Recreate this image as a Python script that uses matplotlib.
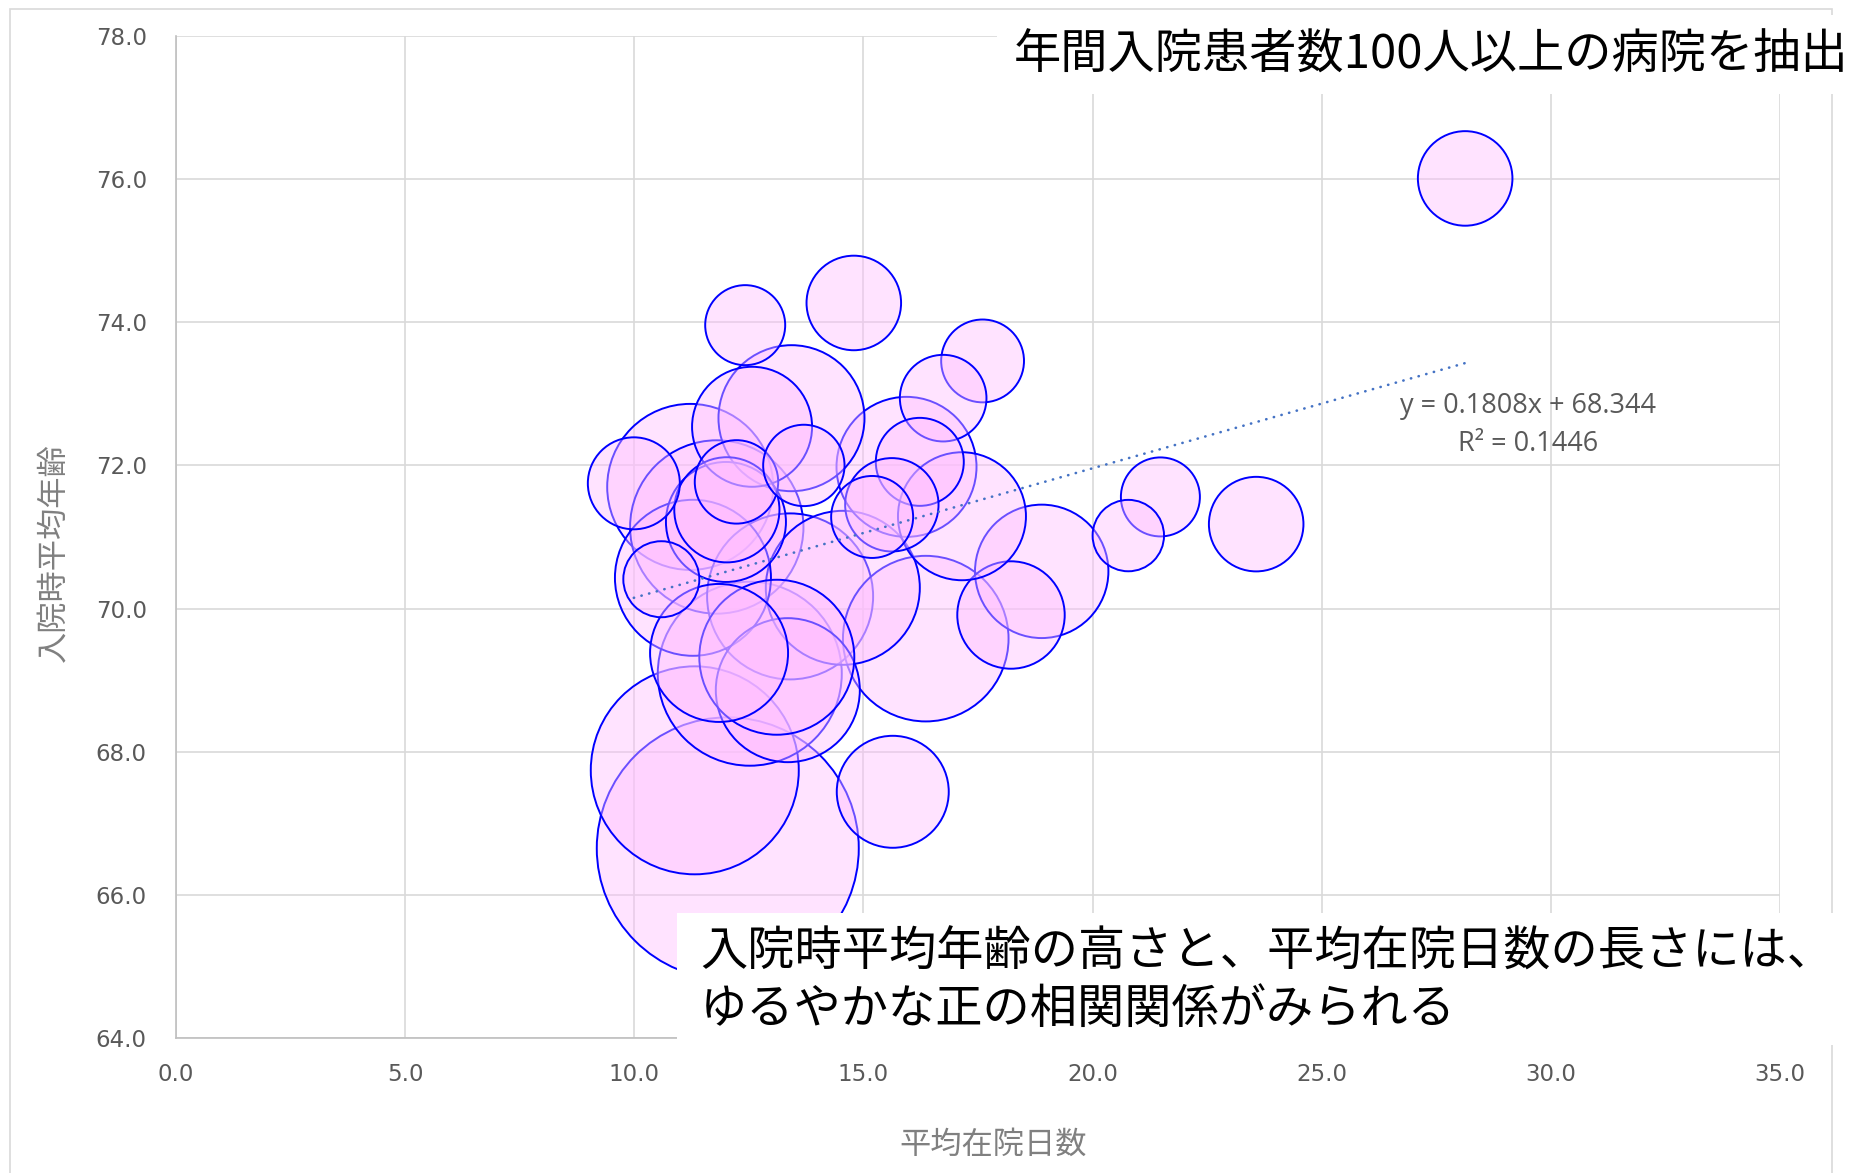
import numpy as np
import matplotlib.pyplot as plt
from matplotlib.patches import Rectangle

plt.rcParams['font.family'] = ['Noto Sans CJK JP', 'DejaVu Sans']

# Data, listed in drawing order
avg_days = [12.04, 11.32, 12.52, 11.22, 11.80, 13.40, 16.36, 14.55, 11.28, 15.94,
            13.43, 13.35, 13.11, 11.85, 18.89, 18.22, 17.15, 12.00, 12.57, 12.02,
            15.64, 23.57, 14.79, 28.13, 12.42, 17.60, 16.74, 16.23, 15.62, 15.19,
            9.99, 12.23, 13.70, 10.59, 21.48, 20.78]
avg_age = [66.65, 67.74, 69.09, 71.70, 71.14, 70.17, 69.58, 70.29, 70.43, 71.98,
           72.66, 68.86, 69.32, 69.38, 70.52, 69.91, 71.29, 71.21, 72.54, 71.38,
           67.44, 71.18, 74.27, 76.01, 73.96, 73.46, 72.94, 72.05, 71.45, 71.28,
           71.75, 71.77, 72.00, 70.41, 71.56, 71.02]
patients = [3432, 2163, 1693, 1378, 1503, 1378, 1371, 1186, 1217, 980,
            1066, 1037, 1201, 952, 890, 577, 819, 720, 720, 553,
            627, 447, 447, 447, 320, 343, 375, 387, 436, 336,
            423, 348, 331, 289, 312, 255]

x_ticks = [0, 5, 10, 15, 20, 25, 30, 35]
y_ticks = [64, 66, 68, 70, 72, 74, 76, 78]

# trendline shown on the chart
SLOPE = 0.1808
INTERCEPT = 68.344
R2 = 0.1446

W, H = 1854, 1173
fig = plt.figure(figsize=(W / 100, H / 100), dpi=100)
ax = fig.add_axes([176 / W, 1 - 1038 / H, (1780 - 176) / W, (1038 - 36) / H])

# outer chart border
fig.add_artist(Rectangle((10 / W, -0.01), (1832 - 10) / W, 1.0 - 9 / H + 0.01,
                         transform=fig.transFigure, fill=False,
                         edgecolor='#d9d9d9', lw=1.2, zorder=0))

ax.scatter(avg_days, avg_age, s=np.array(patients) * 10.368,
           facecolors=(1.0, 0.74, 1.0, 0.42), edgecolors='#0000ff',
           linewidths=1.4, zorder=3)

# trendline
tx = np.array([min(avg_days), max(avg_days)])
ax.plot(tx, SLOPE * tx + INTERCEPT, color='#4472c4', lw=1.9,
        linestyle=(0, (0.1, 2.9)), dash_capstyle='round', zorder=4)

ax.set_xlim(0, 35)
ax.set_ylim(64, 78)
ax.set_xticks(x_ticks)
ax.set_yticks(y_ticks)
ax.set_xticklabels([f'{v:.1f}' for v in x_ticks], family='DejaVu Sans')
ax.set_yticklabels([f'{v:.1f}' for v in y_ticks], family='DejaVu Sans')
ax.tick_params(length=0, labelsize=16.5, labelcolor='#595959')
ax.tick_params(axis='y', pad=21)
ax.tick_params(axis='x', pad=18)
ax.grid(color='#d9d9d9', lw=1.2)
ax.set_axisbelow(True)
for side in ['top', 'right']:
    ax.spines[side].set_visible(False)
for side in ['left', 'bottom']:
    ax.spines[side].set_color('#bfbfbf')
    ax.spines[side].set_linewidth(1.2)

fig.text(53 / W, 1 - 553 / H, '入院時平均年齢', rotation=90, fontsize=22.5,
         color='#808080', ha='center', va='center')
fig.text(993 / W, 1 - 1145 / H, '平均在院日数', fontsize=22.5,
         color='#808080', ha='center', va='center')

fig.text(1528 / W, 1 - 406 / H, f'y = {SLOPE}x + {INTERCEPT}', fontsize=19.5,
         family='Open Sans', color='#595959', ha='center', va='center', zorder=5)
fig.text(1528 / W, 1 - 444 / H, f'R² = {R2}', fontsize=19.5,
         family='Open Sans', color='#595959', ha='center', va='center', zorder=5)

# annotation boxes
fig.add_artist(Rectangle((997 / W, 1 - 94 / H), (W - 997) / W, 79 / H,
                         transform=fig.transFigure, facecolor='white',
                         edgecolor='none', zorder=5))
fig.text(1014 / W, 1 - 55 / H, '年間入院患者数100人以上の病院を抽出', fontsize=34,
         color='black', ha='left', va='center', zorder=6)

fig.add_artist(Rectangle((677 / W, 1 - 1045 / H), (W - 677) / W, 132 / H,
                         transform=fig.transFigure, facecolor='white',
                         edgecolor='none', zorder=5))
fig.text(700 / W, 1 - 952 / H, '入院時平均年齢の高さと、平均在院日数の長さには、',
         fontsize=34, color='black', ha='left', va='center', zorder=6)
fig.text(700 / W, 1 - 1010 / H, 'ゆるやかな正の相関関係がみられる',
         fontsize=34, color='black', ha='left', va='center', zorder=6)

fig.savefig('out.png', dpi=100)
